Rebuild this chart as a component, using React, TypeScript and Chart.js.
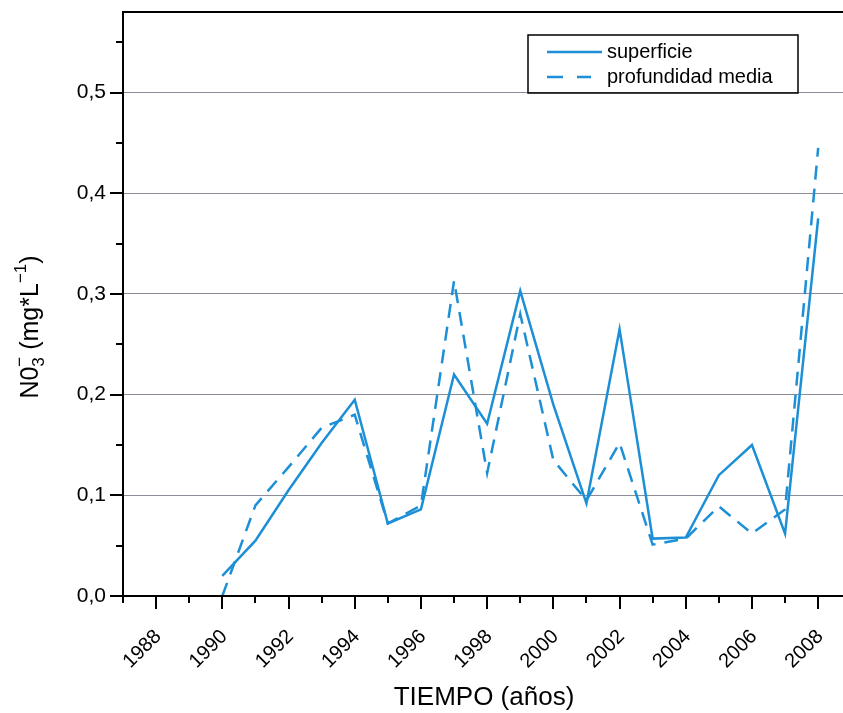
import React, { useEffect, useRef } from "react";
import { Chart, registerables } from "chart.js";

Chart.register(...registerables);

const years = [1990, 1991, 1992, 1993, 1994, 1995, 1996, 1997, 1998, 1999, 2000, 2001, 2002, 2003, 2004, 2005, 2006, 2007, 2008];
const superficie = [0.02, 0.055, 0.105, 0.152, 0.195, 0.072, 0.086, 0.22, 0.171, 0.303, 0.19, 0.092, 0.265, 0.057, 0.058, 0.12, 0.15, 0.062, 0.375];
const profundidad = [0.0, 0.09, 0.128, 0.167, 0.18, 0.072, 0.09, 0.313, 0.122, 0.28, 0.135, 0.095, 0.152, 0.051, 0.057, 0.089, 0.062, 0.086, 0.445];
const seriesNames = ["superficie", "profundidad media"];
const xTickValues = [1987, 1988, 1989, 1990, 1991, 1992, 1993, 1994, 1995, 1996, 1997, 1998, 1999, 2000, 2001, 2002, 2003, 2004, 2005, 2006, 2007, 2008];
const xTickLabels = ["1988", "1990", "1992", "1994", "1996", "1998", "2000", "2002", "2004", "2006", "2008"];
const yTickValues = [0, 0.05, 0.1, 0.15, 0.2, 0.25, 0.3, 0.35, 0.4, 0.45, 0.5, 0.55];
const yTickLabels = ["0,0", "0,1", "0,2", "0,3", "0,4", "0,5"];
const xTitle = "TIEMPO (años)";

const BLUE = "#1c8fd6";
const FONT = "'Liberation Sans', Arial, sans-serif";

const isMajorY = (v: number) => Math.round(v * 100) % 10 === 0;

const framePlugin = {
  id: "frame",
  afterDraw(chart: any) {
    const { ctx, chartArea } = chart;
    const xs = chart.scales.x;
    const ys = chart.scales.y;
    ctx.save();
    ctx.strokeStyle = "#000";
    ctx.lineWidth = 2;
    ctx.beginPath();
    ctx.moveTo(chartArea.right + 2, chartArea.top);
    ctx.lineTo(chartArea.left, chartArea.top);
    ctx.lineTo(chartArea.left, chartArea.bottom);
    ctx.lineTo(chartArea.right + 2, chartArea.bottom);
    ctx.stroke();
    for (const yr of xTickValues) {
      const px = Math.round(xs.getPixelForValue(yr));
      const len = xTickLabels.includes(String(yr)) ? 13 : 7;
      ctx.beginPath();
      ctx.moveTo(px, chartArea.bottom);
      ctx.lineTo(px, chartArea.bottom + len);
      ctx.stroke();
    }
    for (const v of yTickValues) {
      const py = Math.round(ys.getPixelForValue(v));
      const len = isMajorY(v) ? 13 : 7;
      ctx.beginPath();
      ctx.moveTo(chartArea.left, py);
      ctx.lineTo(chartArea.left - len, py);
      ctx.stroke();
    }
    // legend
    ctx.lineWidth = 1.5;
    ctx.strokeRect(528, 35, 270, 58);
    ctx.strokeStyle = BLUE;
    ctx.lineWidth = 2.5;
    ctx.beginPath();
    ctx.moveTo(547, 52);
    ctx.lineTo(602, 52);
    ctx.stroke();
    ctx.setLineDash([16, 14]);
    ctx.beginPath();
    ctx.moveTo(547, 77);
    ctx.lineTo(591, 77);
    ctx.stroke();
    ctx.setLineDash([]);
    ctx.fillStyle = "#000";
    ctx.font = `20px ${FONT}`;
    ctx.textAlign = "left";
    ctx.textBaseline = "alphabetic";
    ctx.fillText(seriesNames[0], 607, 58);
    ctx.fillText(seriesNames[1], 607, 83);
    // x title
    ctx.font = `26px ${FONT}`;
    ctx.textAlign = "center";
    ctx.fillText(xTitle, 484, 705);
    // y title with sub/superscripts
    ctx.translate(38, 327);
    ctx.rotate(-Math.PI / 2);
    const big = `25px ${FONT}`;
    const small = `17px ${FONT}`;
    const parts: [string, string, number, boolean][] = [
      ["N0", big, 0, true],
      ["3", small, 6, false],
      ["\u2212", small, -13, true],
      [" (mg*L", big, 0, true],
      ["\u22121", small, -12, true],
      [")", big, 0, true],
    ];
    let total = 0;
    for (const [t, f, , adv] of parts) {
      ctx.font = f;
      if (adv) total += ctx.measureText(t).width;
    }
    let cx = -total / 2;
    ctx.textAlign = "left";
    for (const [t, f, dy, adv] of parts) {
      ctx.font = f;
      ctx.fillText(t, cx, dy);
      if (adv) cx += ctx.measureText(t).width;
    }
    ctx.restore();
  },
};

export default function App() {
  const ref = useRef<HTMLCanvasElement>(null);
  useEffect(() => {
    document.body.style.margin = "0";
    const chart = new Chart(ref.current!, {
      type: "line",
      data: {
        datasets: [
          {
            label: seriesNames[0],
            data: years.map((yr, i) => ({ x: yr, y: superficie[i] })),
            borderColor: BLUE,
            borderWidth: 2.5,
            pointRadius: 0,
            fill: false,
            tension: 0,
          },
          {
            label: seriesNames[1],
            data: years.map((yr, i) => ({ x: yr, y: profundidad[i] })),
            borderColor: BLUE,
            borderWidth: 2.5,
            borderDash: [14, 9],
            pointRadius: 0,
            fill: false,
            tension: 0,
          },
        ],
      },
      options: {
        animation: false,
        responsive: false,
        layout: { padding: { top: 12, right: 0, left: 0, bottom: 0 } },
        plugins: { legend: { display: false }, tooltip: { enabled: false } },
        scales: {
          x: {
            type: "linear",
            min: 1987,
            max: 2008.75,
            afterBuildTicks: (s: any) => { s.ticks = xTickValues.map((v) => ({ value: v })); },
            afterFit: (s: any) => {
              s.height = 117;
              s.paddingLeft = 0;
              s.paddingRight = 0;
            },
            grid: { display: false, drawTicks: false },
            border: { display: false },
            ticks: {
              autoSkip: false,
              maxRotation: 45,
              minRotation: 45,
              padding: 29,
              labelOffset: 2,
              color: "#000",
              font: { family: FONT, size: 20 },
              callback: (v: any) => (xTickLabels.includes(String(v)) ? String(v) : ""),
            },
          },
          y: {
            min: 0,
            max: 0.58,
            afterBuildTicks: (s: any) => { s.ticks = yTickValues.map((v) => ({ value: v })); },
            afterFit: (s: any) => {
              s.width = 123;
              s.paddingTop = 0;
              s.paddingBottom = 0;
            },
            grid: {
              drawTicks: false,
              color: (c: any) => {
                const v = c.tick.value;
                return v > 0 && isMajorY(v) ? "#8c8c99" : "rgba(0,0,0,0)";
              },
              lineWidth: 1,
            },
            border: { display: false },
            ticks: {
              autoSkip: false,
              padding: 17,
              color: "#000",
              font: { family: FONT, size: 21 },
              callback: (v: any) => {
                const lbl = (Math.round(v * 10) / 10).toFixed(1).replace(".", ",");
                return isMajorY(v) && yTickLabels.includes(lbl) ? lbl : "";
              },
            },
          },
        },
      },
      plugins: [framePlugin],
    });
    return () => chart.destroy();
  }, []);
  return (
    <div style={{ width: 843, height: 713 }}>
      <canvas ref={ref} width={843} height={713} style={{ display: "block" }} />
    </div>
  );
}
